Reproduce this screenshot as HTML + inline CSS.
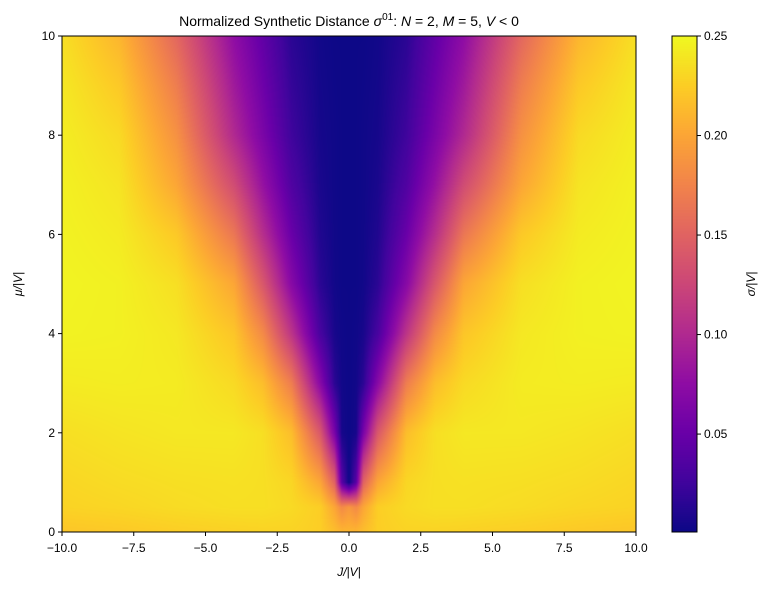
<!DOCTYPE html>
<html><head><meta charset="utf-8">
<style>
body{margin:0;background:#fff;width:770px;height:590px;overflow:hidden;font-family:"Liberation Sans",sans-serif}
#wrap{position:relative;width:770px;height:590px}
canvas{position:absolute}
svg{position:absolute;left:0;top:0}
</style></head><body>
<div id="wrap">
<canvas id="heat" width="574" height="496" style="left:62px;top:36px"></canvas>
<canvas id="cbar" width="25" height="496" style="left:672px;top:36px"></canvas>
<svg id="ax" width="770" height="590"></svg>
</div>
<script>
const jVals=[-10,-8,-6,-4,-3,-2,-1,-0.5,-0.25,0,0.25,0.5,1,2,3,4,6,8,10];
const muVals=[0,0.5,1,2,3,4,5,6,7,8,9,10];
const sigma=[
[.22,.222,.225,.227,.228,.228,.225,.215,.21,.21,.21,.215,.225,.228,.228,.227,.225,.222,.22],
[.228,.23,.233,.235,.235,.232,.225,.20,.18,.19,.18,.20,.225,.232,.235,.235,.233,.23,.228],
[.23,.233,.235,.236,.235,.23,.2,.15,.04,.001,.04,.15,.2,.23,.235,.236,.235,.233,.23],
[.235,.238,.24,.24,.235,.215,.14,.06,.005,.001,.005,.06,.14,.215,.235,.24,.24,.238,.235],
[.242,.243,.242,.232,.215,.17,.07,.015,.003,.001,.003,.015,.07,.17,.215,.232,.242,.243,.242],
[.246,.245,.24,.22,.18,.11,.03,.006,.002,.001,.002,.006,.03,.11,.18,.22,.24,.245,.246],
[.247,.245,.235,.2,.14,.07,.015,.003,.001,.001,.001,.003,.015,.07,.14,.2,.235,.245,.247],
[.246,.242,.222,.165,.105,.05,.01,.0025,.001,.001,.001,.0025,.01,.05,.105,.165,.222,.242,.246],
[.245,.238,.2,.13,.08,.035,.007,.002,.001,.001,.001,.002,.007,.035,.08,.13,.2,.238,.245],
[.243,.232,.185,.1,.062,.025,.005,.002,.001,.001,.001,.002,.005,.025,.062,.1,.185,.232,.243],
[.24,.222,.17,.087,.053,.02,.004,.0015,.001,.001,.001,.0015,.004,.02,.053,.087,.17,.222,.24],
[.235,.21,.153,.075,.045,.015,.003,.001,.001,.001,.001,.001,.003,.015,.045,.075,.153,.21,.235]];
const xTicks=[-10,-7.5,-5,-2.5,0,2.5,5,7.5,10];
const yTicks=[0,2,4,6,8,10];
const cTicks=[0.05,0.10,0.15,0.20,0.25];
const vmin=0.0008,vmax=0.25;
const PX=62,PY=36,PW=574,PH=496;
const xS=v=>PX+(v+10)/20*PW, yS=v=>PY+PH-(v/10)*PH;
const cm=[[13,8,135],[65,4,157],[106,0,168],[143,13,164],[177,42,144],[204,71,120],[225,100,98],[242,132,75],[252,166,54],[252,206,37],[240,249,33]];
function col(v){let t=Math.max(0,Math.min(1,(v-vmin)/(vmax-vmin)))*10;let i=Math.min(9,Math.floor(t)),f=t-i;return cm[i].map((c,k)=>c+(cm[i+1][k]-c)*f);}
function idx(a,v){for(let i=0;i<a.length-1;i++)if(v<=a[i+1])return i;return a.length-2;}
function sm(f){return f*f*(3-2*f);}
const hc=document.getElementById('heat').getContext('2d');
const img=hc.createImageData(PW,PH);
for(let py=0;py<PH;py++){const mu=(PH-py-0.5)/PH*10;const r=idx(muVals,mu);const fr=(mu-muVals[r])/(muVals[r+1]-muVals[r]);
for(let px=0;px<PW;px++){const j=(px+0.5)/PW*20-10;const c=idx(jVals,j);const fc=(j-jVals[c])/(jVals[c+1]-jVals[c]);
const v=(sigma[r][c]*(1-fc)+sigma[r][c+1]*fc)*(1-fr)+(sigma[r+1][c]*(1-fc)+sigma[r+1][c+1]*fc)*fr;
const k=col(v),o=(py*PW+px)*4;img.data[o]=k[0];img.data[o+1]=k[1];img.data[o+2]=k[2];img.data[o+3]=255;}}
hc.putImageData(img,0,0);
const cc=document.getElementById('cbar').getContext('2d');
for(let py=0;py<PH;py++){const v=vmin+(PH-py-0.5)/PH*(vmax-vmin);const k=col(v);cc.fillStyle=`rgb(${k[0]|0},${k[1]|0},${k[2]|0})`;cc.fillRect(0,py,25,1);}
const svg=document.getElementById('ax');const NS='http://www.w3.org/2000/svg';
function mk(t,a,txt){const e=document.createElementNS(NS,t);for(const k in a)e.setAttribute(k,a[k]);if(txt!==undefined)e.textContent=txt;svg.appendChild(e);return e;}
let e=mk('rect',{x:PX,y:PY,width:PW,height:PH,fill:'none',stroke:'#000','stroke-width':1});


e=mk('rect',{x:672,y:PY,width:25,height:PH,fill:'none',stroke:'#000','stroke-width':1});


xTicks.forEach(t=>{const x=xS(t);mk('line',{x1:x,x2:x,y1:PY+PH,y2:PY+PH+4,stroke:'#000'});
e=mk('text',{x:x,y:552,'font-size':'12','text-anchor':'middle'},t.toFixed(1).replace('-','−'));

});
yTicks.forEach(t=>{const y=yS(t);mk('line',{x1:PX-4,x2:PX,y1:y,y2:y,stroke:'#000'});
e=mk('text',{x:PX-7,y:y+4,'font-size':'12','text-anchor':'end'},String(t));

});
cTicks.forEach(t=>{const y=PY+PH-(t-vmin)/(vmax-vmin)*PH;mk('line',{x1:697,x2:701,y1:y,y2:y,stroke:'#000'});
e=mk('text',{x:704,y:y+4,'font-size':'12'},t.toFixed(2));

});
e=mk('text',{x:349,y:576,'font-size':'12','text-anchor':'middle','font-style':'italic'},'J/|V|');


e=mk('text',{x:22,y:284,'font-size':'12','text-anchor':'middle','font-style':'italic',transform:'rotate(-90 22 284)'},'μ/|V|');


e=mk('text',{x:755,y:284,'font-size':'12','text-anchor':'middle','font-style':'italic',transform:'rotate(-90 755 284)'},'σ/|V|');


e=mk('text',{x:349,y:26,'font-size':'14','text-anchor':'middle'});


e.innerHTML='Normalized Synthetic Distance <tspan font-style="italic">σ</tspan><tspan dy="-6" font-size="10">01</tspan><tspan dy="6">: </tspan><tspan font-style="italic">N</tspan> = 2, <tspan font-style="italic">M</tspan> = 5, <tspan font-style="italic">V</tspan> &lt; 0';
</script>
</body></html>
